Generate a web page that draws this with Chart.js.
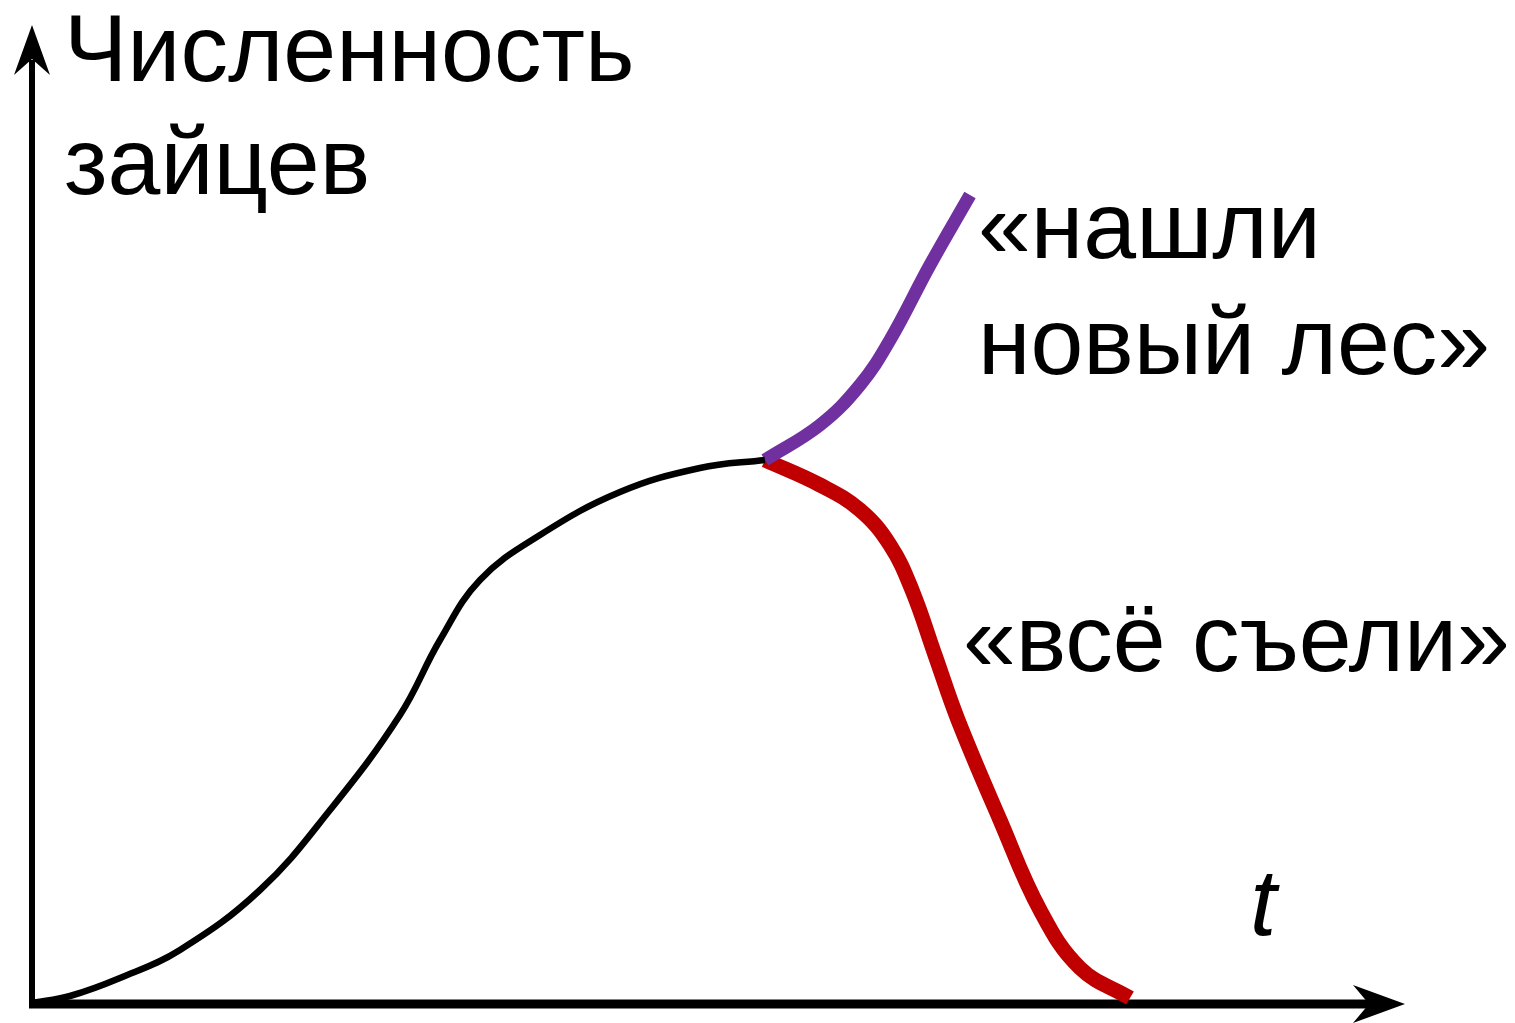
<!DOCTYPE html>
<html>
<head>
<meta charset="utf-8">
<script src="https://cdn.jsdelivr.net/npm/chart.js@4"></script>
<style>
html,body{margin:0;padding:0;background:#fff;}
#wrap{position:relative;width:1515px;height:1023px;}
</style>
</head>
<body>
<div id="wrap"><canvas id="c"></canvas></div>
<script>
// Data (x: time units, y: population units; origin at axis crossing)
const baseT   = [0, 3.8, 8.8, 14.8, 22.8, 29.8, 36.8, 40.8, 44.8, 50.8, 58.8, 66.8, 73.3];
const baseN   = [0, 0.7, 2.5, 5.3, 11.3, 19.3, 28.8, 36.3, 42.3, 46.8, 51.1, 53.5, 54.3];
const forestT = [73.3, 78.8, 82.8, 85.8, 89.8, 93.8];
const forestN = [54.3, 57.8, 61.8, 66.3, 73.8, 80.8];
const eatenT  = [73.3, 78.8, 82.8, 85.8, 88.0, 90.3, 92.6, 96.8, 100.8, 104.8, 109.8];
const eatenN  = [54.3, 51.8, 49.3, 45.8, 41.3, 34.8, 28.3, 18.3, 9.3, 3.5, 0.5];
const yTitle  = ["Численность", "зайцев"];
const xTitle  = "t";
const forestLabel = ["«нашли", "новый лес»"];
const eatenLabel  = ["«всё съели»"];

const pts = (xs, ys) => xs.map((x, i) => ({x, y: ys[i]}));

const axesPlugin = {
  id: 'arrowAxes',
  beforeDatasetsDraw(chart) {
    const {ctx, scales:{x, y}} = chart;
    const ox = x.getPixelForValue(0), oy = y.getPixelForValue(0);
    const yTop = y.getPixelForValue(97.8);
    const xEnd = x.getPixelForValue(137.3);
    ctx.save();
    ctx.fillStyle = '#000'; ctx.strokeStyle = '#000';
    // y axis
    ctx.lineWidth = 6;
    ctx.beginPath(); ctx.moveTo(ox, oy + 3); ctx.lineTo(ox, yTop + 35); ctx.stroke();
    ctx.beginPath();
    ctx.moveTo(ox, yTop);
    ctx.lineTo(ox + 18, yTop + 50);
    ctx.lineTo(ox, yTop + 34);
    ctx.lineTo(ox - 18, yTop + 50);
    ctx.closePath(); ctx.fill();
    // x axis
    ctx.lineWidth = 9;
    ctx.beginPath(); ctx.moveTo(ox - 3, oy + 1); ctx.lineTo(xEnd - 35, oy + 1); ctx.stroke();
    ctx.beginPath();
    ctx.moveTo(xEnd, oy + 1);
    ctx.lineTo(xEnd - 52, oy + 1 - 19);
    ctx.lineTo(xEnd - 36, oy + 1);
    ctx.lineTo(xEnd - 52, oy + 1 + 19);
    ctx.closePath(); ctx.fill();
    ctx.restore();
  },
  afterDatasetsDraw(chart) {
    const {ctx} = chart;
    ctx.save();
    ctx.fillStyle = '#000';
    ctx.textBaseline = 'alphabetic';
    ctx.font = '95px "Liberation Sans", Arial, sans-serif';
    ctx.fillText(yTitle[0], 64, 81);
    ctx.fillText(yTitle[1], 64, 194);
    ctx.fillText(forestLabel[0], 978, 258);
    ctx.fillText(forestLabel[1], 978, 374);
    ctx.fillText(eatenLabel[0], 963, 671);
    ctx.font = 'italic 95px "Liberation Sans", Arial, sans-serif';
    ctx.fillText(xTitle, 1250, 935);
    ctx.restore();
  }
};

new Chart(document.getElementById('c'), {
  type: 'line',
  data: {
    datasets: [
      {data: pts(baseT, baseN), borderColor: '#000000', borderWidth: 6.5, tension: 0.4},
      {data: pts(forestT, forestN), borderColor: '#7030A0', borderWidth: 13, tension: 0.4},
      {data: pts(eatenT, eatenN), borderColor: '#C00000', borderWidth: 15, tension: 0.4}
    ]
  },
  options: {
    responsive: true,
    maintainAspectRatio: false,
    animation: false,
    layout: {padding: 0},
    elements: {point: {radius: 0}, line: {fill: false, borderCapStyle: 'butt'}},
    plugins: {legend: {display: false}, tooltip: {enabled: false}},
    scales: {
      x: {type: 'linear', display: false, min: -3.2, max: 148.3},
      y: {type: 'linear', display: false, min: -2.0, max: 100.3}
    }
  },
  plugins: [axesPlugin]
});
</script>
</body>
</html>
